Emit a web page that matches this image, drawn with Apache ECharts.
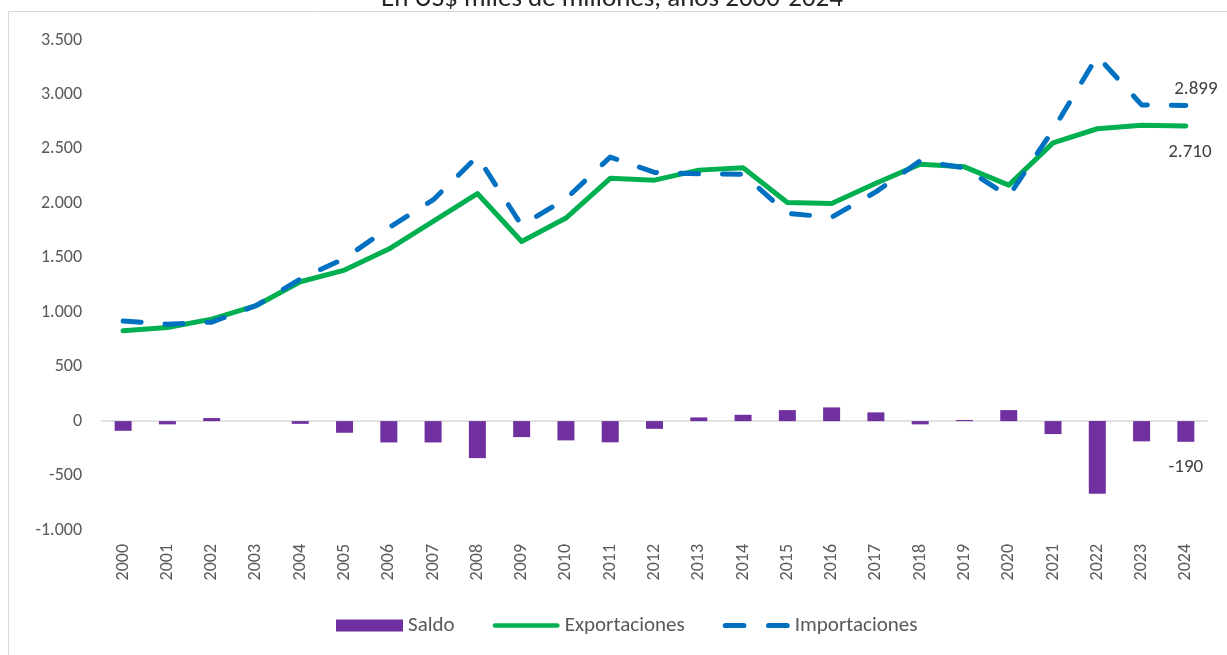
<!DOCTYPE html>
<html>
<head>
<meta charset="utf-8">
<script src="https://cdn.jsdelivr.net/npm/echarts@6/dist/echarts.min.js"></script>
<style>
html,body{margin:0;padding:0;background:#fff;}
#chart{width:1227px;height:655px;}
</style>
</head>
<body>
<div id="chart"></div>
<script>
const years = ['2000','2001','2002','2003','2004','2005','2006','2007','2008','2009','2010','2011','2012','2013','2014','2015','2016','2017','2018','2019','2020','2021','2022','2023','2024'];
const saldo = [-89,-30,28,0,-25,-107,-196,-196,-340,-147,-177,-195,-71,34,58,101,126,80,-30,10,101,-119,-667,-186,-190];
const exportaciones = [830,860,937,1060,1280,1387,1580,1835,2090,1650,1865,2230,2213,2305,2326,2008,1998,2185,2360,2335,2167,2555,2685,2718,2710];
const importaciones = [919,890,909,1060,1305,1494,1776,2031,2430,1797,2042,2425,2284,2271,2268,1907,1872,2105,2390,2325,2066,2674,3352,2904,2899];
const yTicks = {min:-1000, max:3500, interval:500};

const FONT = 'Carlito, Lato, sans-serif';
function fmt(v){
  const s = Math.round(Math.abs(v)).toString().replace(/\B(?=(\d{3})+(?!\d))/g,'.');
  return (v<0?'-':'') + s;
}
function withLastLabel(arr, labelOpt){
  return arr.map((v,i)=> i===arr.length-1 ? {value:v, label:Object.assign({show:true, formatter:p=>fmt(p.value), color:'#404040', fontSize:19, fontFamily:FONT}, labelOpt)} : v);
}

const ICON_LINE = 'path://M2.5,0h68a2.5,2.5 0 0 1 0,5h-68a2.5,2.5 0 0 1 0,-5z';
const ICON_DASH = 'path://M2.5,0h18a2.5,2.5 0 0 1 0,5h-18a2.5,2.5 0 0 1 0,-5zM44.5,0h18a2.5,2.5 0 0 1 0,5h-18a2.5,2.5 0 0 1 0,-5z';

const chart = echarts.init(document.getElementById('chart'), null, {renderer:'canvas'});
chart.setOption({
  animation:false,
  backgroundColor:'#fff',
  textStyle:{fontFamily:FONT},
  graphic:[
    {type:'rect', shape:{x:8.5,y:11.5,width:1300,height:800}, style:{fill:'none', stroke:'#d9d9d9', lineWidth:1}, silent:true},
    {type:'text', x:612, y:13, style:{text:'En US$ miles de millones, años 2000-2024', fontSize:27, fontFamily:FONT, fill:'#262626', align:'center', verticalAlign:'bottom'}}
  ],
  grid:{left:101, right:19, top:40, bottom:125},
  legend:{
    top:610, left:331,
    itemWidth:67, itemHeight:12, itemGap:38,
    textStyle:{fontSize:21, color:'#595959', fontFamily:FONT},
    data:[
      {name:'Saldo', icon:'rect'},
      {name:'Exportaciones', icon:ICON_LINE},
      {name:'Importaciones', icon:ICON_DASH}
    ]
  },
  xAxis:{
    type:'category', data:years,
    axisLine:{show:false}, axisTick:{show:false},
    axisLabel:{rotate:90, color:'#595959', fontSize:18, fontFamily:FONT, margin:14}
  },
  yAxis:{
    type:'value', min:yTicks.min, max:yTicks.max, interval:yTicks.interval,
    splitLine:{show:false}, axisLine:{show:false}, axisTick:{show:false},
    axisLabel:{formatter:fmt, color:'#595959', fontSize:18, fontFamily:FONT, margin:19}
  },
  series:[
    {name:'Saldo', type:'bar', barWidth:17, itemStyle:{color:'#7030A0'},
     data:withLastLabel(saldo,{position:'bottom', offset:[0,11]}),
     markLine:{silent:true, symbol:'none', label:{show:false}, lineStyle:{color:'#d9d9d9', width:1.5, type:'solid'}, data:[{yAxis:0}], z:1}
    },
    {name:'Exportaciones', type:'line', symbol:'circle', symbolSize:0.01, showSymbol:true, z:3,
     lineStyle:{color:'#00B050', width:5, cap:'round', join:'round'}, itemStyle:{color:'#00B050'},
     data:withLastLabel(exportaciones,{position:'bottom', offset:[4,12]})
    },
    {name:'Importaciones', type:'line', symbol:'circle', symbolSize:0.01, showSymbol:true, z:4,
     lineStyle:{color:'#0070C0', width:5, type:[18,24], cap:'round', join:'round'}, itemStyle:{color:'#0070C0'},
     data:withLastLabel(importaciones,{position:'top', offset:[10,-2]})
    }
  ]
});
</script>
</body>
</html>
